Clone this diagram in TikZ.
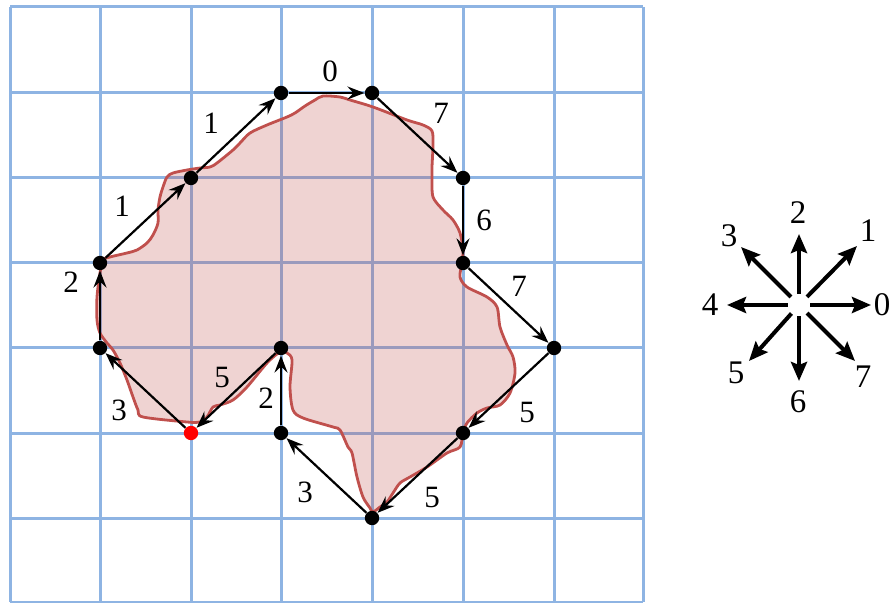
\documentclass[tikz,border=0pt]{standalone}
\usepackage{fontspec}
\setmainfont{Liberation Serif}
\usetikzlibrary{arrows.meta}
\definecolor{gridblue}{HTML}{8EB4E3}
\definecolor{blobred}{HTML}{C0504D}
\tikzset{
  gridline/.style={draw=gridblue, line width=1.5pt},
  blob/.style={draw=blobred, line width=1.4pt, fill=blobred, fill opacity=0.25, draw opacity=1},
  dot/.style={circle, fill=black, inner sep=0pt, minimum size=7.2pt},
  startdot/.style={circle, fill=red, inner sep=0pt, minimum size=7.2pt},
  chain/.style={draw=black, line width=1.1pt, -{Stealth[length=8.5pt,width=6.5pt,inset=3pt]}},
  lab/.style={inner sep=0pt, font=\fontsize{15.5}{18}\selectfont},
  clab/.style={inner sep=0pt, font=\fontsize{16.5}{19}\selectfont},
  compass/.style={draw=black, line width=2pt, -{Stealth[length=9.5pt,width=8pt,inset=1.5pt]}},
}
\begin{document}
\begin{tikzpicture}[x=0.5pt,y=-0.5pt]
\useasboundingbox (0,0) rectangle (892,603);
% grid
\foreach \gx in {10,100,191,281,372,463,554,643} {
  \draw[gridline] (\gx,7) -- (\gx,602);
}
\foreach \gy in {7,93,178,263,348,433,518,602} {
  \draw[gridline] (10,\gy) -- (643,\gy);
}
% blob
\path[blob] plot[smooth cycle, tension=0.5] coordinates {
(103,260) (110,257) (127,253) (137,250) (147,243) (153,235) (158,223) (158,210)
(160,197) (163,187) (167,177) (173,173) (187,170) (200,168) (210,167) (217,163)
(233,150) (240,143) (250,133) (267,125) (287,117) (295,113) (305,106) (315,100)
(323,96) (340,97) (350,100) (373,107) (407,120) (423,125) (432,131) (433,145)
(432,167) (432,177) (433,197) (443,210) (453,220) (460,233) (463,250) (462,263)
(460,277) (467,287) (487,297) (497,307) (500,327) (507,345) (513,357) (515,373)
(510,393) (500,405) (487,408) (477,413) (467,423) (463,433) (460,447) (447,453)
(427,467) (410,477) (400,483) (393,493) (387,502) (380,507) (373,512) (370,508)
(363,497) (357,477) (352,453) (348,447) (340,430) (333,427) (303,418) (293,410)
(290,387) (292,360) (287,353) (280,352) (267,363) (247,387) (233,400) (220,405)
(213,407) (207,417) (200,422) (187,422) (143,417) (138,410) (133,397) (127,380)
(120,363) (113,350) (107,343) (100,333) (97,320) (97,297) (100,273)
};
% chain points
\node[startdot] (p0) at (191,433) {};
\node[dot] (p1) at (100,348) {};
\node[dot] (p2) at (100,263) {};
\node[dot] (p3) at (191,178) {};
\node[dot] (p4) at (281,93) {};
\node[dot] (p5) at (372,93) {};
\node[dot] (p6) at (463,178) {};
\node[dot] (p7) at (463,263) {};
\node[dot] (p8) at (554,348) {};
\node[dot] (p9) at (463,433) {};
\node[dot] (p10) at (372,518) {};
\node[dot] (p11) at (281,433) {};
\node[dot] (p12) at (281,348) {};
% chain arrows
\draw[chain] (p0) -- (p1);
\draw[chain] (p1) -- (p2);
\draw[chain] (p2) -- (p3);
\draw[chain] (p3) -- (p4);
\draw[chain] (p4) -- (p5);
\draw[chain] (p5) -- (p6);
\draw[chain] (p6) -- (p7);
\draw[chain] (p7) -- (p8);
\draw[chain] (p8) -- (p9);
\draw[chain] (p9) -- (p10);
\draw[chain] (p10) -- (p11);
\draw[chain] (p11) -- (p12);
\draw[chain] (p12) -- (p0);
% chain labels
\node[lab] (l1) at (119,410) {3};
\node[lab] (l2) at (71,282) {2};
\node[lab] (l3) at (122,206) {1};
\node[lab] (l4) at (211,123) {1};
\node[lab] (l5) at (330,71) {0};
\node[lab] (l6) at (441,113) {7};
\node[lab] (l7) at (484,220) {6};
\node[lab] (l8) at (519,286) {7};
\node[lab] (l9) at (527,413) {5};
\node[lab] (l10) at (432,497) {5};
\node[lab] (l11) at (305,492) {3};
\node[lab] (l12) at (266,398) {2};
\node[lab] (l13) at (222,378) {5};
% compass
\node[circle, inner sep=0pt, minimum size=11pt] (c) at (799,305) {};
\coordinate (e0) at (871,305);
\coordinate (e1) at (857,246);
\coordinate (e2) at (799,234);
\coordinate (e3) at (741,247);
\coordinate (e4) at (727,305);
\coordinate (e5) at (749,361);
\coordinate (e6) at (799,381);
\coordinate (e7) at (855,361);
\foreach \k in {0,...,7} {
  \draw[compass] (c) -- (e\k);
}
\node[clab] (d0) at (882,305) {0};
\node[clab] (d1) at (868,231) {1};
\node[clab] (d2) at (798,213) {2};
\node[clab] (d3) at (729,236) {3};
\node[clab] (d4) at (710,305) {4};
\node[clab] (d5) at (736,373) {5};
\node[clab] (d6) at (798,402) {6};
\node[clab] (d7) at (863,377) {7};
\end{tikzpicture}
\end{document}
